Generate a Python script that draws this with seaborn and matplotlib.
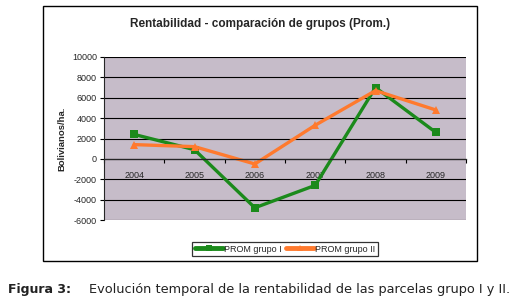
import pandas as pd
import matplotlib.pyplot as plt
import seaborn as sns
from matplotlib.patches import Rectangle

# Data
years = ['2004', '2005', '2006', '2007', '2008', '2009']
grupo_1 = [2400, 900, -4800, -2600, 7000, 2600]
grupo_2 = [1400, 1200, -500, 3300, 6700, 4800]
series_names = ['PROM grupo I', 'PROM grupo II']

df = pd.DataFrame({
    'Año': years * 2,
    'Valor': grupo_1 + grupo_2,
    'Serie': [series_names[0]] * len(years) + [series_names[1]] * len(years),
})

sns.set_theme(style="white")
plt.rcParams['font.family'] = ['Liberation Sans', 'DejaVu Sans']
plt.rcParams['axes.unicode_minus'] = False

fig = plt.figure(figsize=(5.21, 3.05), dpi=100)
ax = fig.add_axes([104 / 521, 1 - 220 / 305, 362 / 521, 163 / 305])

# outer chart frame
fig.patches.append(Rectangle((43 / 521, 1 - 261 / 305), 434 / 521, 255 / 305,
                             transform=fig.transFigure, fill=False,
                             edgecolor='black', linewidth=1.0))

ax.set_facecolor('#c6bcc9')
sns.lineplot(data=df, x='Año', y='Valor', hue='Serie', style='Serie',
             markers=['s', '^'], dashes=False, markersize=6,
             palette=['#1b8a1b', '#ff7a2e'], linewidth=2.4,
             markeredgewidth=0, ax=ax, legend=False, sort=False)

ax.set_ylim(-6000, 10000)
ax.set_xlim(-0.5, 5.5)
ax.set_yticks(range(-6000, 10001, 2000))
ax.yaxis.grid(True, color='black', linewidth=0.8)
ax.set_axisbelow(True)
ax.tick_params(axis='y', labelsize=6.5, length=3, width=0.8, pad=2, left=True,
               color='black')

# category axis crossing at zero
ax.spines['bottom'].set_position(('data', 0))
ax.spines['bottom'].set_linewidth(0.9)
for s in ['top', 'right']:
    ax.spines[s].set_visible(False)
ax.spines['left'].set_linewidth(0.8)
ax.set_xticks(range(len(years)))
ax.set_xticklabels(years)
ax.set_xticks([i - 0.5 for i in range(len(years) + 1)], minor=True)
ax.tick_params(axis='x', which='major', length=0, labelsize=6.5, pad=9)
ax.tick_params(axis='x', which='minor', length=3, width=0.8, direction='out',
               bottom=True, color='black')

ax.set_xlabel('')
ax.set_ylabel('Bolivianos/ha.', fontsize=6.8, fontweight='bold', labelpad=4)

ax.set_title('Rentabilidad - comparación de grupos (Prom.)', fontsize=8.5,
             fontweight='bold', x=(260 - 104) / 362, y=1.13)

# legend
handles = [plt.Line2D([], [], color='#1b8a1b', marker='s', lw=3.5, ms=5, mew=0),
           plt.Line2D([], [], color='#ff7a2e', marker='^', lw=3.5, ms=5, mew=0)]
leg = fig.legend(handles, series_names, loc='center',
                 bbox_to_anchor=(285 / 521, 1 - 249 / 305), ncol=2,
                 fontsize=6.5, frameon=True, fancybox=False, handlelength=3.2,
                 handletextpad=0.1, columnspacing=0.4, borderpad=0.25,
                 borderaxespad=0)
leg.get_frame().set_edgecolor('black')
leg.get_frame().set_linewidth(0.9)

# caption
fig.text(8 / 521, 1 - 289 / 305, 'Figura 3:', fontsize=9, fontweight='bold',
         va='center', family=['DejaVu Sans'], color='#222222')
fig.text(89 / 521, 1 - 289 / 305,
         'Evolución temporal de la rentabilidad de las parcelas grupo I y II.',
         fontsize=9.3, va='center', family=['DejaVu Sans'], color='#222222')

fig.savefig('out.png', dpi=100, facecolor='white')
